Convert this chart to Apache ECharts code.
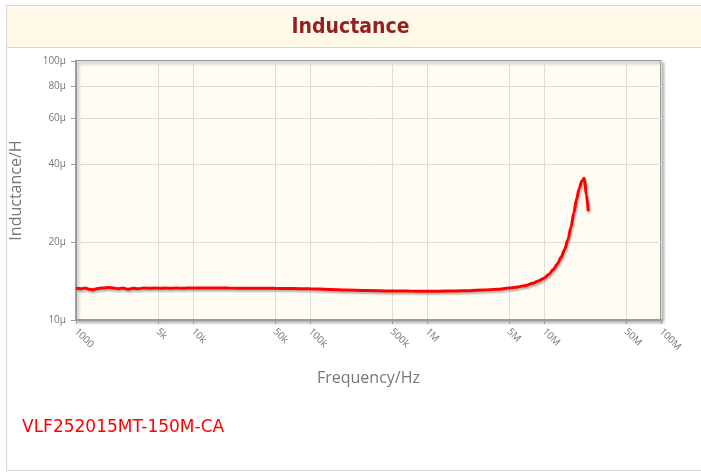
<!DOCTYPE html>
<html>
<head>
<meta charset="utf-8">
<script src="https://cdn.jsdelivr.net/npm/echarts@6/dist/echarts.min.js"></script>
<style>
html,body{margin:0;padding:0;background:#fff;}
#chart{width:701px;height:472px;}
</style>
</head>
<body>
<div id="chart"></div>
<script>
// ---- data ----
const titleText = 'Inductance';
const partName = 'VLF252015MT-150M-CA';
const xAxisName = 'Frequency/Hz';
const yAxisName = 'Inductance/H';

const xTickValues = [1000, 5000, 10000, 50000, 100000, 500000, 1000000, 5000000, 10000000, 50000000, 100000000];
const xTickLabels = ['1000', '5k', '10k', '50k', '100k', '500k', '1M', '5M', '10M', '50M', '100M'];
const yTickValues = [10, 20, 40, 60, 80, 100];          // µH
const yTickLabels = ['10µ', '20µ', '40µ', '60µ', '80µ', '100µ'];

const frequency = [
  1000, 1100, 1200, 1300, 1400, 1500, 1700, 1900, 2100, 2300, 2500, 2800, 3100, 3400, 3800,
  4200, 4700, 5200, 5800, 6500, 7200, 8000, 9000, 10000, 13000, 20000, 30000, 50000, 70000,
  100000, 150000, 200000, 300000, 500000, 700000, 1000000, 1500000, 2000000, 3000000,
  4000000, 5000000, 6000000, 7000000, 8000000, 9000000, 10000000, 11000000, 12000000,
  13000000, 14000000, 15000000, 16000000, 17000000, 18000000, 19000000, 20000000,
  21000000, 22100000, 23000000, 23900000
];
const inductance = [ // µH
  13.25, 13.2, 13.3, 13.15, 13.1, 13.2, 13.3, 13.35, 13.3, 13.2, 13.3, 13.15, 13.25, 13.2, 13.3,
  13.25, 13.3, 13.25, 13.3, 13.25, 13.3, 13.25, 13.3, 13.3, 13.3, 13.28, 13.27, 13.25, 13.22,
  13.2, 13.12, 13.05, 13.0, 12.95, 12.93, 12.92, 12.93, 12.97, 13.05,
  13.15, 13.28, 13.42, 13.6, 13.85, 14.15, 14.5, 15.0, 15.65,
  16.45, 17.45, 18.7, 20.4, 22.8, 26.0, 29.3, 32.2,
  34.3, 35.3, 30.5, 26.3
];

const seriesData = frequency.map((f, i) => [f, inductance[i]]);

const chart = echarts.init(document.getElementById('chart'), null, {renderer: 'canvas'});
chart.setOption({
  animation: false,
  backgroundColor: '#ffffff',
  graphic: [
    {type: 'rect', z: -10, shape: {x: 6.5, y: 5.5, width: 700, height: 465}, style: {fill: '#ffffff', stroke: '#d6d6d6', lineWidth: 1}},
    {type: 'rect', z: -9, shape: {x: 6.5, y: 5.5, width: 700, height: 42}, style: {fill: '#fff9e9', stroke: '#d6d6d6', lineWidth: 1}},
    {type: 'text', z: 10, left: 'center', top: 17, style: {text: titleText, fill: '#951f1f', font: 'bold 21px "DejaVu Sans Condensed", "DejaVu Sans", sans-serif'}},
    {type: 'text', z: 10, left: 22, top: 419, style: {text: partName, fill: '#ff0000', font: '17px "DejaVu Sans", sans-serif'}}
  ],
  grid: {
    left: 74, right: 40, top: 61, bottom: 152,
    show: true,
    backgroundColor: '#fffcf4',
    borderColor: '#9a9a9a',
    borderWidth: 2,
    shadowColor: 'rgba(0,0,0,0.25)',
    shadowBlur: 3,
    shadowOffsetX: 2,
    shadowOffsetY: 2
  },
  xAxis: {
    type: 'log',
    logBase: 10,
    min: 1000,
    max: 100000000,
    name: xAxisName,
    nameLocation: 'middle',
    nameGap: 50,
    nameTextStyle: {color: '#777', fontSize: 16, fontFamily: '"Open Sans", sans-serif'},
    axisLine: {show: true, lineStyle: {color: '#9a9a9a', width: 2}},
    axisTick: {show: true, length: 4, lineStyle: {color: '#9a9a9a'}, customValues: xTickValues},
    axisLabel: {
      customValues: xTickValues,
      rotate: -45,
      margin: 10,
      color: '#777',
      fontSize: 10,
      fontFamily: '"Open Sans", sans-serif',
      formatter: v => { const i = xTickValues.findIndex(t => Math.abs(t - v) / t < 1e-6); return i >= 0 ? xTickLabels[i] : ''; }
    },
    splitLine: {show: true, lineStyle: {color: '#dcdcdc', width: 1}},
    minorTick: {show: false},
    minorSplitLine: {show: false}
  },
  yAxis: {
    type: 'log',
    logBase: 10,
    min: 10,
    max: 100,
    name: yAxisName,
    nameLocation: 'middle',
    nameGap: 52,
    nameTextStyle: {color: '#777', fontSize: 16, fontFamily: '"Open Sans", sans-serif'},
    axisLine: {show: true, lineStyle: {color: '#9a9a9a', width: 2}},
    axisTick: {show: true, length: 5, lineStyle: {color: '#9a9a9a'}, customValues: yTickValues},
    axisLabel: {
      customValues: yTickValues,
      margin: 10,
      color: '#777',
      fontSize: 10,
      fontFamily: '"Open Sans", sans-serif',
      formatter: v => { const i = yTickValues.findIndex(t => Math.abs(t - v) / t < 1e-6); return i >= 0 ? yTickLabels[i] : ''; }
    },
    splitLine: {show: true, lineStyle: {color: '#dcdcdc', width: 1}},
    minorTick: {show: false},
    minorSplitLine: {show: false}
  },
  series: [{
    type: 'line',
    data: seriesData,
    showSymbol: false,
    smooth: 0.3,
    smoothMonotone: 'x',
    lineStyle: {color: '#ff0000', width: 3, shadowColor: 'rgba(0,0,0,0.3)', shadowBlur: 2, shadowOffsetX: 1, shadowOffsetY: 2},
    itemStyle: {color: '#ff0000'}
  }]
});
</script>
</body>
</html>
